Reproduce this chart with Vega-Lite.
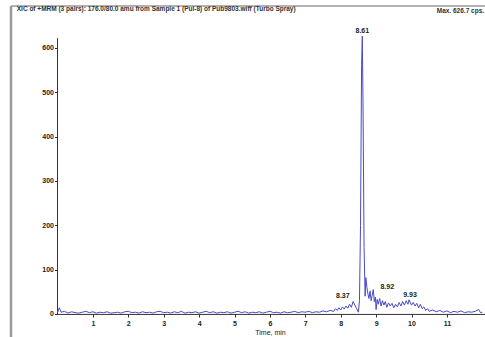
{
  "$schema": "https://vega.github.io/schema/vega-lite/v6.json",
  "width": 479,
  "height": 340,
  "autosize": {"type": "none"},
  "padding": {"left": 11, "top": 6, "right": 0, "bottom": 0},
  "background": "white",
  "config": {
    "view": {"stroke": null},
    "font": "Liberation Sans"
  },
  "title": {
    "text": "XIC of +MRM (3 pairs): 176.0/80.0 amu from Sample 1 (Pul-8) of Pub9803.wiff (Turbo Spray)",
    "anchor": "start",
    "fontSize": 6.5,
    "fontWeight": "bold",
    "color": "#333",
    "offset": -8,
    "dx": 7
  },
  "datasets": {
    "trace": [
      {"time": 0.0, "intensity": 3}, {"time": 0.05, "intensity": 14}, {"time": 0.1, "intensity": 4}, {"time": 0.2, "intensity": 6},
      {"time": 0.3, "intensity": 2}, {"time": 0.4, "intensity": 5}, {"time": 0.5, "intensity": 3}, {"time": 0.6, "intensity": 2},
      {"time": 0.7, "intensity": 4}, {"time": 0.8, "intensity": 6}, {"time": 0.9, "intensity": 3}, {"time": 1.0, "intensity": 5},
      {"time": 1.1, "intensity": 2}, {"time": 1.2, "intensity": 4}, {"time": 1.3, "intensity": 3}, {"time": 1.4, "intensity": 5},
      {"time": 1.5, "intensity": 2}, {"time": 1.6, "intensity": 3}, {"time": 1.7, "intensity": 4}, {"time": 1.8, "intensity": 2},
      {"time": 1.9, "intensity": 5}, {"time": 2.0, "intensity": 6}, {"time": 2.1, "intensity": 3}, {"time": 2.2, "intensity": 4},
      {"time": 2.3, "intensity": 2}, {"time": 2.4, "intensity": 5}, {"time": 2.5, "intensity": 3}, {"time": 2.6, "intensity": 4},
      {"time": 2.7, "intensity": 2}, {"time": 2.8, "intensity": 5}, {"time": 2.9, "intensity": 6}, {"time": 3.0, "intensity": 3},
      {"time": 3.1, "intensity": 4}, {"time": 3.2, "intensity": 2}, {"time": 3.3, "intensity": 5}, {"time": 3.4, "intensity": 3},
      {"time": 3.5, "intensity": 6}, {"time": 3.6, "intensity": 2}, {"time": 3.7, "intensity": 4}, {"time": 3.8, "intensity": 3},
      {"time": 3.9, "intensity": 5}, {"time": 4.0, "intensity": 2}, {"time": 4.1, "intensity": 4}, {"time": 4.2, "intensity": 6},
      {"time": 4.3, "intensity": 3}, {"time": 4.4, "intensity": 5}, {"time": 4.5, "intensity": 2}, {"time": 4.6, "intensity": 4},
      {"time": 4.7, "intensity": 3}, {"time": 4.8, "intensity": 5}, {"time": 4.9, "intensity": 2}, {"time": 5.0, "intensity": 4},
      {"time": 5.1, "intensity": 6}, {"time": 5.2, "intensity": 3}, {"time": 5.3, "intensity": 5}, {"time": 5.4, "intensity": 2},
      {"time": 5.5, "intensity": 4}, {"time": 5.6, "intensity": 3}, {"time": 5.7, "intensity": 5}, {"time": 5.8, "intensity": 2},
      {"time": 5.9, "intensity": 4}, {"time": 6.0, "intensity": 6}, {"time": 6.1, "intensity": 3}, {"time": 6.2, "intensity": 4},
      {"time": 6.3, "intensity": 2}, {"time": 6.4, "intensity": 5}, {"time": 6.5, "intensity": 3}, {"time": 6.6, "intensity": 4},
      {"time": 6.7, "intensity": 6}, {"time": 6.8, "intensity": 3}, {"time": 6.9, "intensity": 5}, {"time": 7.0, "intensity": 4},
      {"time": 7.1, "intensity": 6}, {"time": 7.2, "intensity": 3}, {"time": 7.3, "intensity": 5}, {"time": 7.4, "intensity": 4},
      {"time": 7.5, "intensity": 7}, {"time": 7.6, "intensity": 5}, {"time": 7.7, "intensity": 8}, {"time": 7.8, "intensity": 6},
      {"time": 7.85, "intensity": 12}, {"time": 7.9, "intensity": 8}, {"time": 7.95, "intensity": 14}, {"time": 8.0, "intensity": 9},
      {"time": 8.05, "intensity": 16}, {"time": 8.1, "intensity": 11}, {"time": 8.15, "intensity": 18}, {"time": 8.2, "intensity": 13},
      {"time": 8.25, "intensity": 22}, {"time": 8.3, "intensity": 15}, {"time": 8.35, "intensity": 28}, {"time": 8.4, "intensity": 20},
      {"time": 8.45, "intensity": 12}, {"time": 8.5, "intensity": 4}, {"time": 8.53, "intensity": 30}, {"time": 8.56, "intensity": 200},
      {"time": 8.59, "intensity": 560}, {"time": 8.61, "intensity": 626.7}, {"time": 8.63, "intensity": 480}, {"time": 8.66, "intensity": 150},
      {"time": 8.69, "intensity": 40}, {"time": 8.71, "intensity": 82}, {"time": 8.74, "intensity": 60}, {"time": 8.77, "intensity": 45},
      {"time": 8.8, "intensity": 35}, {"time": 8.83, "intensity": 52}, {"time": 8.86, "intensity": 30}, {"time": 8.89, "intensity": 42},
      {"time": 8.92, "intensity": 55}, {"time": 8.95, "intensity": 28}, {"time": 8.98, "intensity": 38}, {"time": 9.0, "intensity": 10},
      {"time": 9.03, "intensity": 33}, {"time": 9.06, "intensity": 22}, {"time": 9.1, "intensity": 35}, {"time": 9.14, "intensity": 18},
      {"time": 9.18, "intensity": 30}, {"time": 9.22, "intensity": 20}, {"time": 9.26, "intensity": 28}, {"time": 9.3, "intensity": 15},
      {"time": 9.35, "intensity": 25}, {"time": 9.4, "intensity": 18}, {"time": 9.45, "intensity": 24}, {"time": 9.5, "intensity": 14},
      {"time": 9.55, "intensity": 22}, {"time": 9.6, "intensity": 16}, {"time": 9.65, "intensity": 26}, {"time": 9.7, "intensity": 18},
      {"time": 9.75, "intensity": 28}, {"time": 9.8, "intensity": 20}, {"time": 9.85, "intensity": 30}, {"time": 9.9, "intensity": 22},
      {"time": 9.93, "intensity": 32}, {"time": 10.0, "intensity": 20}, {"time": 10.05, "intensity": 26}, {"time": 10.1, "intensity": 18},
      {"time": 10.15, "intensity": 24}, {"time": 10.2, "intensity": 14}, {"time": 10.25, "intensity": 22}, {"time": 10.3, "intensity": 12},
      {"time": 10.35, "intensity": 16}, {"time": 10.4, "intensity": 8}, {"time": 10.45, "intensity": 12}, {"time": 10.5, "intensity": 6},
      {"time": 10.6, "intensity": 9}, {"time": 10.7, "intensity": 5}, {"time": 10.8, "intensity": 8}, {"time": 10.9, "intensity": 4},
      {"time": 11.0, "intensity": 7}, {"time": 11.1, "intensity": 3}, {"time": 11.2, "intensity": 6}, {"time": 11.3, "intensity": 4},
      {"time": 11.4, "intensity": 7}, {"time": 11.5, "intensity": 3}, {"time": 11.6, "intensity": 5}, {"time": 11.7, "intensity": 4},
      {"time": 11.8, "intensity": 6}, {"time": 11.9, "intensity": 10}, {"time": 11.95, "intensity": 3}, {"time": 12.0, "intensity": 4}
    ],
    "peaks": [
      {"time": 8.61, "intensity": 626.7, "label": "8.61"},
      {"time": 8.37, "intensity": 28, "label": "8.37"},
      {"time": 8.92, "intensity": 55, "label": "8.92"},
      {"time": 9.93, "intensity": 32, "label": "9.93"}
    ],
    "maxnote": [
      {"time": 12.05, "intensity": 684, "note": "Max. 626.7 cps."}
    ],
    "one": [{}]
  },
  "layer": [
    {
      "data": {"name": "one"},
      "mark": {"type": "rule", "color": "#999999", "strokeWidth": 2.5},
      "encoding": {
        "x": {"datum": -1.3136, "type": "quantitative", "scale": {"domain": [-1.3136, 12.2175], "nice": false, "zero": false}},
        "y": {"datum": -72.2, "type": "quantitative", "scale": {"domain": [-72.2, 694.7], "nice": false, "zero": false}},
        "y2": {"datum": 694.7}
      }
    },
    {
      "data": {"name": "one"},
      "mark": {"type": "rule", "color": "#999999", "strokeWidth": 1.5},
      "encoding": {
        "x": {"datum": -1.3136, "type": "quantitative", "scale": {"domain": [-1.3136, 12.2175], "nice": false, "zero": false}},
        "x2": {"datum": 12.2175},
        "y": {"datum": 694.7, "type": "quantitative", "scale": {"domain": [-72.2, 694.7], "nice": false, "zero": false}}
      }
    },
    {
      "data": {"name": "one"},
      "mark": {"type": "rule", "color": "#333", "strokeWidth": 1},
      "encoding": {
        "x": {"datum": 0, "type": "quantitative", "scale": {"domain": [-1.3136, 12.2175], "nice": false, "zero": false}},
        "y": {"datum": -1, "type": "quantitative", "scale": {"domain": [-72.2, 694.7], "nice": false, "zero": false}},
        "y2": {"datum": 622}
      }
    },
    {
      "data": {"name": "one"},
      "mark": {"type": "rule", "color": "#333", "strokeWidth": 1},
      "encoding": {
        "x": {"datum": 0, "type": "quantitative", "scale": {"domain": [-1.3136, 12.2175], "nice": false, "zero": false}},
        "x2": {"datum": 12.1},
        "y": {"datum": -1, "type": "quantitative", "scale": {"domain": [-72.2, 694.7], "nice": false, "zero": false}}
      }
    },
    {
      "data": {"name": "trace"},
      "mark": {"type": "line", "color": "#4a4ac8", "strokeWidth": 1},
      "encoding": {
        "x": {
          "field": "time", "type": "quantitative",
          "scale": {"domain": [-1.3136, 12.2175], "nice": false, "zero": false},
          "axis": {
            "values": [1, 2, 3, 4, 5, 6, 7, 8, 9, 10, 11],
            "offset": -32, "domain": false, "grid": false,
            "tickSize": 3, "tickColor": "#333",
            "labelFontSize": 7, "labelColor": "#222", "labelPadding": 2, "labelFontWeight": "bold",
            "title": "Time, min", "titleFontSize": 7, "titleFontWeight": "normal", "titleColor": "#222",
            "titlePadding": 2, "titleX": 259
          }
        },
        "y": {
          "field": "intensity", "type": "quantitative",
          "scale": {"domain": [-72.2, 694.7], "nice": false, "zero": false},
          "axis": {
            "values": [0, 50, 100, 150, 200, 250, 300, 350, 400, 450, 500, 550, 600],
            "offset": -46.5, "domain": false, "grid": false,
            "tickSize": 3, "tickColor": "#333",
            "labelFontSize": 7, "labelColor": "#222", "labelPadding": 1, "labelFontWeight": "bold",
            "title": null
          }
        }
      }
    },
    {
      "data": {"name": "peaks"},
      "transform": [{"filter": "datum.label == '8.61'"}],
      "mark": {"type": "text", "fontSize": 7, "fontWeight": "bold", "color": "#222", "baseline": "bottom", "dy": -2},
      "encoding": {
        "x": {"field": "time", "type": "quantitative"},
        "y": {"field": "intensity", "type": "quantitative"},
        "text": {"field": "label"}
      }
    },
    {
      "data": {"name": "peaks"},
      "transform": [{"filter": "datum.label == '8.37'"}],
      "mark": {"type": "text", "fontSize": 7, "fontWeight": "bold", "color": "#222", "baseline": "middle", "dx": -11, "dy": -6},
      "encoding": {
        "x": {"field": "time", "type": "quantitative"},
        "y": {"field": "intensity", "type": "quantitative"},
        "text": {"field": "label"}
      }
    },
    {
      "data": {"name": "peaks"},
      "transform": [{"filter": "datum.label == '8.92'"}],
      "mark": {"type": "text", "fontSize": 7, "fontWeight": "bold", "color": "#222", "baseline": "middle", "dx": 14, "dy": -3},
      "encoding": {
        "x": {"field": "time", "type": "quantitative"},
        "y": {"field": "intensity", "type": "quantitative"},
        "text": {"field": "label"}
      }
    },
    {
      "data": {"name": "peaks"},
      "transform": [{"filter": "datum.label == '9.93'"}],
      "mark": {"type": "text", "fontSize": 7, "fontWeight": "bold", "color": "#222", "baseline": "middle", "dx": 1, "dy": -5},
      "encoding": {
        "x": {"field": "time", "type": "quantitative"},
        "y": {"field": "intensity", "type": "quantitative"},
        "text": {"field": "label"}
      }
    },
    {
      "data": {"name": "maxnote"},
      "mark": {"type": "text", "fontSize": 6.5, "fontWeight": "bold", "color": "#333", "align": "right", "baseline": "middle"},
      "encoding": {
        "x": {"field": "time", "type": "quantitative"},
        "y": {"field": "intensity", "type": "quantitative"},
        "text": {"field": "note"}
      }
    }
  ]
}
